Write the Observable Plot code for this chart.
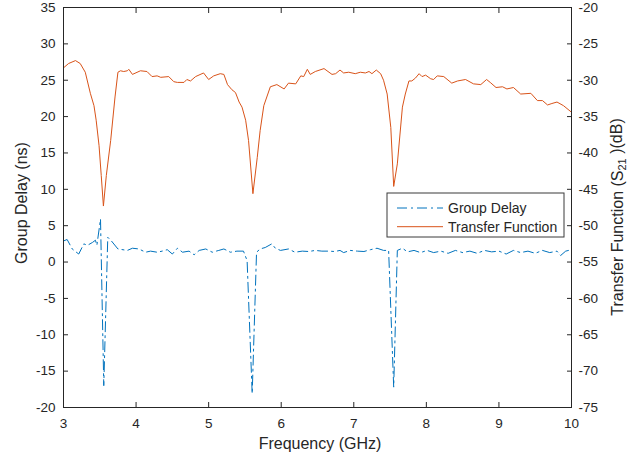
<!DOCTYPE html>
<html><head><meta charset="utf-8">
<script src="https://cdn.jsdelivr.net/npm/d3@7"></script>
<script src="https://cdn.jsdelivr.net/npm/@observablehq/plot@0.6"></script>
<style>body{margin:0;background:#fff} svg{display:block}</style>
</head><body><div id="chart"></div>
<script>
const gdFreq = [3.00,3.05,3.12,3.21,3.28,3.33,3.40,3.44,3.46,3.51,3.555,3.61,3.66,3.75,3.88,3.95,4.04,4.13,4.20,4.29,4.36,4.43,4.50,4.57,4.64,4.73,4.80,4.87,4.96,5.05,5.14,5.21,5.30,5.39,5.48,5.53,5.60,5.66,5.71,5.78,5.87,5.92,5.99,6.10,6.19,6.29,6.38,6.47,6.56,6.65,6.74,6.81,6.86,6.95,7.05,7.14,7.23,7.32,7.41,7.48,7.55,7.60,7.67,7.74,7.83,7.92,8.01,8.10,8.20,8.30,8.40,8.50,8.60,8.70,8.80,8.90,9.00,9.10,9.20,9.30,9.40,9.50,9.60,9.70,9.80,9.85,9.92,10.00];
const gdValue = [2.9,3.1,1.8,1.1,2.5,2.3,2.7,3.0,2.3,5.9,-17.0,3.4,2.9,1.8,1.6,1.9,1.8,1.35,1.5,1.35,1.5,1.7,1.1,1.9,1.35,1.5,1.0,1.6,1.8,1.35,1.6,1.8,1.35,1.5,1.5,0.2,-18.1,1.35,1.8,2.0,2.5,1.9,1.6,1.8,1.35,1.5,1.45,1.6,1.5,1.5,1.45,1.6,1.3,1.6,1.5,1.45,1.7,1.9,1.6,1.6,-17.2,1.6,1.9,1.4,1.6,1.3,1.6,1.3,1.5,1.2,1.6,1.3,1.5,1.2,1.6,1.4,1.5,1.1,1.6,1.3,1.5,1.2,1.6,1.3,1.5,0.9,1.5,1.7];

const tfFreq = [3.00,3.07,3.165,3.23,3.30,3.37,3.42,3.45,3.49,3.52,3.55,3.59,3.65,3.71,3.75,3.785,3.83,3.88,3.90,3.95,4.06,4.15,4.22,4.29,4.34,4.45,4.52,4.57,4.66,4.70,4.75,4.82,4.93,5.00,5.07,5.16,5.21,5.26,5.32,5.37,5.42,5.46,5.51,5.55,5.61,5.67,5.71,5.76,5.85,5.94,6.04,6.10,6.20,6.27,6.31,6.36,6.40,6.47,6.59,6.70,6.75,6.81,6.86,6.93,7.02,7.09,7.16,7.21,7.25,7.31,7.37,7.41,7.46,7.51,7.55,7.60,7.67,7.71,7.76,7.80,7.85,7.90,7.94,7.99,8.06,8.10,8.15,8.24,8.35,8.43,8.54,8.65,8.75,8.83,8.88,8.96,9.05,9.11,9.20,9.30,9.44,9.53,9.60,9.67,9.73,9.80,9.89,10.00];
const tfDb = [-28.3,-27.7,-27.3,-27.7,-28.9,-31.8,-33.5,-35.5,-39.0,-43.1,-47.3,-43.1,-38.3,-32.3,-28.9,-28.7,-28.8,-28.7,-28.5,-29.2,-28.7,-28.8,-29.5,-29.4,-29.6,-29.5,-30.2,-30.3,-30.3,-29.9,-30.1,-29.5,-29.0,-29.9,-29.4,-29.1,-29.2,-30.6,-31.3,-31.7,-33.0,-33.7,-35.5,-38.3,-45.6,-40.6,-36.9,-33.5,-30.9,-30.6,-31.2,-30.4,-30.5,-29.4,-29.5,-28.5,-29.2,-28.8,-28.4,-29.2,-29.1,-28.6,-29.0,-28.9,-29.1,-28.9,-29.0,-28.8,-29.1,-28.6,-29.1,-30.0,-31.9,-36.5,-44.6,-41.5,-33.7,-31.9,-30.1,-30.1,-29.7,-29.1,-29.5,-29.3,-29.8,-29.9,-29.4,-29.5,-30.4,-30.1,-29.9,-30.5,-30.6,-29.9,-30.3,-31.0,-30.9,-31.2,-31.0,-31.9,-31.8,-32.8,-32.8,-33.4,-33.2,-33.0,-33.5,-34.4];

const xTicks = [3,4,5,6,7,8,9,10];
const leftTicks = [-20,-15,-10,-5,0,5,10,15,20,25,30,35];
const rightTicks = [-75,-70,-65,-60,-55,-50,-45,-40,-35,-30,-25,-20];
const seriesNames = ["Group Delay","Transfer Function"];
const seriesColors = ["#0072BD","#D95319"];
const xLabel = "Frequency (GHz)";
const yLeftLabel = "Group Delay (ns)";

const offset = leftTicks[0] - rightTicks[0]; // map dB onto the left scale
const gd = gdFreq.map((f,i)=>({f, v: gdValue[i]}));
const tf = tfFreq.map((f,i)=>({f, v: tfDb[i] + offset}));
const axisColor = "#262626";
const font = "'Liberation Sans', Arial, Helvetica, sans-serif";
const dash = "10,4,2,4";

const plot = Plot.plot({
  width: 637, height: 461,
  marginLeft: 63, marginRight: 66, marginTop: 7, marginBottom: 54,
  style: {fontFamily: font, fontSize: "13.5px", color: axisColor, background: "#fff", overflow: "visible"},
  x: {domain: [3,10]},
  y: {domain: [leftTicks[0], leftTicks[leftTicks.length-1]]},
  marks: [
    Plot.line(tf, {x:"f", y:"v", stroke: seriesColors[1], strokeWidth: 1}),
    Plot.line(gd, {x:"f", y:"v", stroke: seriesColors[0], strokeWidth: 1, strokeDasharray: dash}),
    Plot.frame({stroke: axisColor, strokeWidth: 1}),
    Plot.axisX(xTicks, {anchor:"bottom", tickSize:-5, tickPadding:16, label:null, tickFormat: d => String(d)}),
    Plot.axisX(xTicks, {anchor:"top", tickSize:-5, tickFormat: () => "", label:null}),
    Plot.axisY(leftTicks, {anchor:"left", tickSize:-5, tickPadding:13, label:null, tickFormat: d => String(d)}),
    Plot.axisY(rightTicks.map(d => d + offset), {anchor:"right", tickSize:-5, tickPadding:12, label:null, tickFormat: d => String(d - offset)})
  ]
});

const svg = d3.select(plot);
const xs = plot.scale("x"), ys = plot.scale("y");
const [x0, x1] = xs.range;
const [yb, yt] = ys.range;
const cx = (x0 + x1) / 2, cy = (yb + yt) / 2;

svg.append("text").attr("x", cx + 3).attr("y", 449)
  .attr("text-anchor", "middle").attr("font-size", 16).attr("fill", axisColor)
  .attr("font-family", font).text(xLabel);

svg.append("text").attr("transform", `translate(27,${cy - 4}) rotate(-90)`)
  .attr("text-anchor", "middle").attr("font-size", 16).attr("fill", axisColor)
  .attr("font-family", font).text(yLeftLabel);

const rl = svg.append("text").attr("transform", `translate(623,${cy + 10}) rotate(-90)`)
  .attr("text-anchor", "middle").attr("font-size", 16).attr("fill", axisColor)
  .attr("font-family", font);
rl.append("tspan").text("Transfer Function (S");
rl.append("tspan").attr("dy", "0.3em").attr("font-size", 11).text("21");
rl.append("tspan").attr("dy", "-0.3em").text(" )(dB)");

// legend
const lg = svg.append("g");
const lx = x1 - 184, ly = 193, lw = 177, lh = 44;
lg.append("rect").attr("x", lx).attr("y", ly).attr("width", lw).attr("height", lh)
  .attr("fill", "#fff").attr("stroke", "#3a3a3a").attr("stroke-width", 1);
seriesNames.forEach((name, i) => {
  const yy = ly + 15 + i * 18.7;
  lg.append("line").attr("x1", lx + 10).attr("x2", lx + 56).attr("y1", yy).attr("y2", yy)
    .attr("stroke", seriesColors[i]).attr("stroke-width", 1)
    .attr("stroke-dasharray", i === 0 ? dash : null);
  lg.append("text").attr("x", lx + 61).attr("y", yy + 4.8).attr("font-size", 14)
    .attr("text-anchor", "start")
    .attr("fill", axisColor).attr("font-family", font).text(name);
});

document.getElementById("chart").appendChild(plot);
</script>
</body></html>
